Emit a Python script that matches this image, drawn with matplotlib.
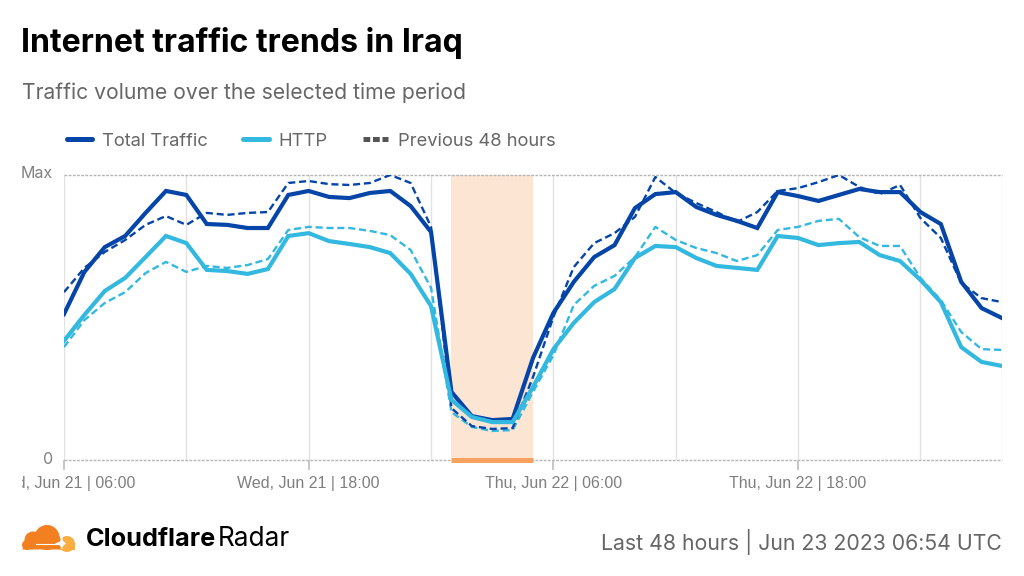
import matplotlib
matplotlib.use("Agg")
import matplotlib.pyplot as plt
from matplotlib.lines import Line2D
from matplotlib.patches import Ellipse, Rectangle, Polygon
from matplotlib.transforms import Bbox

hours = list(range(47))
total = [51.2, 66.0, 74.7, 78.6, 86.7, 94.4, 93.0, 82.8, 82.5, 81.4, 81.4, 93.0, 94.4, 92.3, 91.9, 93.7, 94.4, 89.1, 80.0,
         23.9, 15.4, 14.0, 14.4, 35.8, 51.6, 62.5, 71.2, 75.4, 88.4, 93.3, 94.0, 88.8, 86.0, 83.9, 81.4, 94.0, 92.6, 90.9,
         93.0, 95.1, 94.0, 94.0, 87.0, 82.8, 62.5, 53.3, 49.8]
total_prev = [58.9, 67.4, 73.0, 77.2, 82.5, 85.6, 82.5, 86.7, 86.0, 86.7, 87.0, 97.2, 97.9, 96.8, 96.5, 97.2, 100.0, 97.2, 81.8,
              18.2, 11.9, 10.9, 11.2, 29.1, 50.2, 67.7, 76.1, 79.6, 85.3, 99.3, 93.7, 90.2, 87.0, 83.5, 87.0, 94.4, 95.4, 97.5,
              100.0, 95.8, 93.3, 96.5, 84.9, 77.9, 62.1, 56.8, 55.4]
http = [41.8, 50.9, 59.3, 63.9, 71.2, 78.6, 76.1, 66.7, 66.3, 65.3, 67.0, 78.6, 79.6, 76.8, 75.8, 74.7, 72.6, 65.3, 54.0,
        21.1, 15.1, 13.3, 13.3, 25.6, 38.9, 48.1, 55.4, 60.0, 70.9, 75.1, 74.7, 70.9, 68.1, 67.4, 66.7, 78.6, 77.9, 75.4,
        76.1, 76.5, 71.9, 69.8, 63.2, 55.4, 39.6, 34.4, 33.0]
http_prev = [39.6, 49.1, 55.1, 58.9, 65.6, 69.5, 66.0, 68.1, 67.4, 68.4, 70.5, 80.7, 81.8, 81.4, 81.4, 80.4, 78.9, 73.7, 60.4,
             16.8, 11.6, 10.2, 10.5, 23.9, 36.8, 54.4, 61.1, 64.6, 71.2, 81.8, 77.2, 74.4, 72.6, 69.8, 71.9, 80.7, 81.8, 83.9,
             84.6, 78.2, 75.1, 75.1, 63.9, 56.1, 44.9, 38.9, 38.6]
tick_hours = [0, 12, 24, 36]
tick_labels = ["Wed, Jun 21 | 06:00", "Wed, Jun 21 | 18:00", "Thu, Jun 22 | 06:00", "Thu, Jun 22 | 18:00"]
grid_hours = [0, 6, 12, 18, 24, 30, 36, 42, 46]
outage_start, outage_end = 19, 23

W, H = 1024, 576
BLUE, CYAN = "#0545A8", "#33B8DF"
fig = plt.figure(figsize=(W / 100, H / 100), dpi=100, facecolor="white")
ax = fig.add_axes([64 / W, 1 - 460 / H, 938 / W, 285 / H])
ax.set_xlim(0, 46)
ax.set_ylim(0, 100)
for s in ax.spines.values():
    s.set_visible(False)

ax.axvspan(outage_start, outage_end, color="#FDE5D3", lw=0, zorder=1)
for g in grid_hours:
    ax.axvline(g, color="#E2E2E2", lw=1, zorder=0.5)
for y in (0, 100):
    ax.axhline(y, color="#B5B5B5", lw=1, ls=(0, (2, 1)), zorder=1.5, clip_on=False)

dash = (0, (3, 1.6))
ax.plot(hours, http_prev, color=CYAN, lw=1.7, ls=dash, zorder=3)
ax.plot(hours, total_prev, color=BLUE, lw=1.7, ls=dash, zorder=3)
ax.plot(hours, total, color=BLUE, lw=3, zorder=4, solid_joinstyle="miter")
ax.plot(hours, http, color=CYAN, lw=3, zorder=4, solid_joinstyle="miter")
ax.plot([outage_start, outage_end], [0, 0], color="#F6A25E", lw=3.6, zorder=5,
        solid_capstyle="butt", clip_on=False)

ax.set_xticks(tick_hours)
ax.set_xticklabels([])
ax.tick_params(axis="x", length=7.5, width=1.2, color="#BDBDBD", pad=0)
ax.set_yticks([])
clip = Bbox([[22, 0], [W, H]])
for h, lab in zip(tick_hours, tick_labels):
    t = ax.annotate(lab, (h, 0), xytext=(0, -23.5), textcoords="offset pixels", ha="center", va="center",
                    fontsize=11.5, family="Liberation Sans", color="#7F7F7F", annotation_clip=False)
    t.set_clip_box(clip)
    t.set_clip_on(True)

ax.annotate("Max", (0, 100), xytext=(-11, 1), textcoords="offset pixels", ha="right", va="center",
            fontsize=11.5, family="Inter", color="#808080", annotation_clip=False)
ax.annotate("0", (0, 0), xytext=(-11, 0), textcoords="offset pixels", ha="right", va="center",
            fontsize=11.5, family="Inter", color="#808080", annotation_clip=False)

fig.text(21 / W, 1 - 43 / H, "Internet traffic trends in Iraq", fontsize=23.1, fontweight="bold",
         family="Inter", color="black", va="center")
fig.text(22 / W, 1 - 93 / H, "Traffic volume over the selected time period", fontsize=15.2,
         family="Inter", color="#666666", va="center")
fig.text(1002 / W, 1 - 542 / H, "Last 48 hours | Jun 23 2023 06:54 UTC", fontsize=15.3,
         family="Inter", color="#666666", va="center", ha="right")

handles = [Line2D([], [], color=BLUE, lw=3.6, solid_capstyle="round"),
           Line2D([], [], color=CYAN, lw=3.6, solid_capstyle="round"),
           Line2D([], [], color="#555555", lw=3.6, ls=(0, (1.35, 0.55)))]
leg = fig.legend(handles, ["Total Traffic", "HTTP", "Previous 48 hours"], ncol=3, frameon=False,
                 loc="center left", bbox_to_anchor=(50 / W, 1 - 141 / H),
                 handlelength=1.4, handletextpad=0.55, columnspacing=1.9, labelcolor="#666666",
                 prop={"family": "Inter", "size": 13.2})

# Logo drawn in pixel coordinates
lg = fig.add_axes([0, 0, 1, 1], zorder=10)
lg.set_xlim(0, W)
lg.set_ylim(H, 0)
lg.axis("off")
lg.patch.set_alpha(0)
O1, O2 = "#F38020", "#FBAD41"
lg.add_patch(Ellipse((67, 544), 16, 16, color=O2, lw=0))
lg.add_patch(Rectangle((60, 544), 15, 5.5, color=O2, lw=0))
lg.add_patch(Ellipse((27, 545), 10, 10, color=O1, lw=0))
lg.add_patch(Ellipse((33, 540), 17, 17, color=O1, lw=0))
lg.add_patch(Ellipse((47, 537.5), 25, 25, color=O1, lw=0))
lg.add_patch(Polygon([[22, 549.5], [60, 549.5], [61.5, 541], [57, 531], [40, 535], [27, 542]], color=O1, lw=0))
lg.plot([36, 58], [543.5, 543.5], color="white", lw=0.8)
lg.add_patch(Polygon([[55, 543.5], [60, 541.5], [62, 536], [63, 541], [66, 543.5], [63, 546], [62, 549.5], [60, 545.5]],
                     color="white", lw=0))
lg.text(86, 539.5, "Cloudflare", fontsize=18.2, fontweight="bold", family="Inter", color="black", va="center")
lg.text(218, 539.5, "Radar", fontsize=18.9, family="Inter", color="black", va="center")

fig.savefig("out.png", dpi=100)
